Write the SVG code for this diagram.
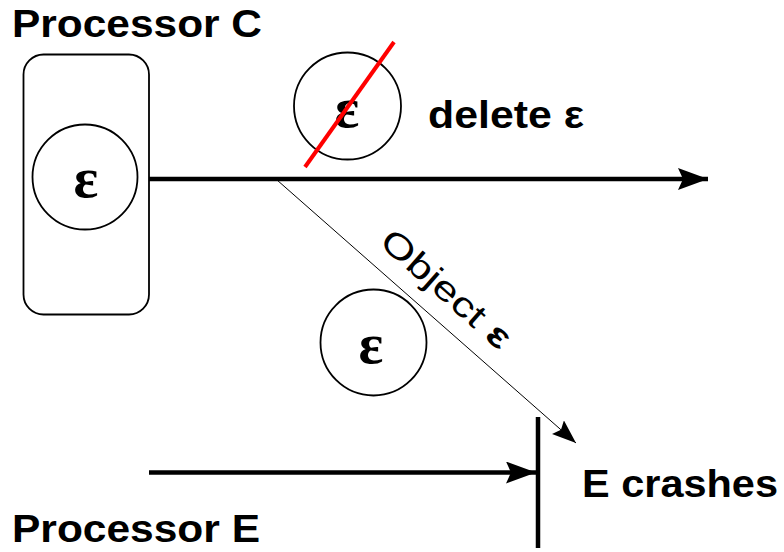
<svg xmlns="http://www.w3.org/2000/svg" width="784" height="552" viewBox="0 0 784 552">
  <style>
    .lbl { font-family: "Liberation Sans", Arial, sans-serif; font-weight: bold; font-size: 39px; fill: #000; }
    .eps { font-family: "Liberation Serif", "Times New Roman", serif; font-weight: bold; font-size: 58px; fill: #000; text-anchor: middle; }
    .obj { font-family: "Liberation Sans", Arial, sans-serif; font-size: 34px; fill: #000; }
    .ring { fill: #fff; stroke: #000; stroke-width: 1.8; }
    .thick { stroke: #000; stroke-width: 4.5; fill: none; }
    .thin { stroke: #000; stroke-width: 1; fill: none; }
  </style>
  <defs>
    <marker id="headBig" markerUnits="userSpaceOnUse" markerWidth="32" markerHeight="24" refX="30" refY="11" orient="auto">
      <path d="M0,0 L30,11 L0,22 L5,11 Z" fill="#000"/>
    </marker>
    <marker id="headThin" markerUnits="userSpaceOnUse" markerWidth="26" markerHeight="20" refX="24" refY="9" orient="auto">
      <path d="M0,0 L24,9 L0,18 L4,9 Z" fill="#000"/>
    </marker>
  </defs>

  <!-- processor C timeline -->
  <g id="processor-c">
    <text class="lbl" x="12" y="37" textLength="250" lengthAdjust="spacingAndGlyphs">Processor C</text>
    <rect x="23.5" y="54.5" width="125.5" height="260" rx="20" ry="20" fill="#fff" stroke="#000" stroke-width="1.8"/>
    <circle class="ring" cx="85" cy="177" r="52.5"/>
    <text class="eps" x="86" y="197">ε</text>
  </g>

  <!-- object being deleted -->
  <g id="deleted-object">
    <circle class="ring" cx="347.5" cy="106" r="53.5"/>
    <text class="eps" x="347" y="127">ε</text>
    <line x1="305" y1="167" x2="394" y2="42" stroke="#ff0000" stroke-width="4"/>
  </g>

  <g id="delete-label">
    <text class="lbl" x="428" y="128" textLength="156" lengthAdjust="spacingAndGlyphs">delete ε</text>
  </g>

  <!-- object in transit -->
  <g id="transit-object">
    <circle class="ring" cx="373.5" cy="342.5" r="53"/>
    <text class="eps" x="371" y="363">ε</text>
  </g>

  <!-- processor E timeline -->
  <g id="processor-e">
    <text class="lbl" x="12" y="542" textLength="248" lengthAdjust="spacingAndGlyphs">Processor E</text>
  </g>

  <g id="crash">
    <line class="thick" x1="538" y1="417" x2="538" y2="548"/>
    <text class="lbl" x="582" y="497" textLength="196" lengthAdjust="spacingAndGlyphs">E crashes</text>
  </g>

  <!-- connectors -->
  <g id="connectors">
    <line class="thick" x1="149" y1="179" x2="708" y2="179" marker-end="url(#headBig)"/>
    <line class="thin" x1="277" y1="180" x2="576" y2="443" marker-end="url(#headThin)"/>
    <line class="thick" x1="149" y1="472.5" x2="536" y2="472.5" marker-end="url(#headBig)"/>
    <text class="obj" transform="translate(378,244) rotate(41.5)" textLength="162" lengthAdjust="spacingAndGlyphs">Object <tspan font-weight="bold">ε</tspan></text>
  </g>
</svg>
